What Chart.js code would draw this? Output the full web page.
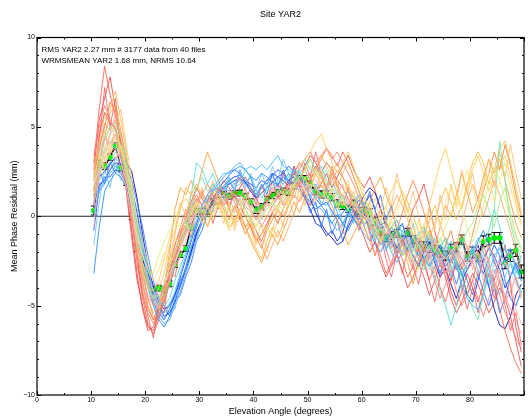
<!DOCTYPE html>
<html>
<head>
<meta charset="utf-8">
<script src="https://cdn.jsdelivr.net/npm/chart.js@4.4.1/dist/chart.umd.min.js"></script>
<style>
  html, body { margin: 0; padding: 0; background: #fff; }
</style>
</head>
<body>
<canvas id="c" width="528" height="417"></canvas>
<script>
// elevation bins (deg)
const elevation = [
  10.5, 11.5, 12.5, 13.5, 14.5, 15.5, 16.5, 17.5, 18.5, 19.5,
  20.5, 21.5, 22.5, 23.5, 24.5, 25.5, 26.5, 27.5, 28.5, 29.5,
  30.5, 31.5, 32.5, 33.5, 34.5, 35.5, 36.5, 37.5, 38.5, 39.5,
  40.5, 41.5, 42.5, 43.5, 44.5, 45.5, 46.5, 47.5, 48.5, 49.5,
  50.5, 51.5, 52.5, 53.5, 54.5, 55.5, 56.5, 57.5, 58.5, 59.5,
  60.5, 61.5, 62.5, 63.5, 64.5, 65.5, 66.5, 67.5, 68.5, 69.5,
  70.5, 71.5, 72.5, 73.5, 74.5, 75.5, 76.5, 77.5, 78.5, 79.5,
  80.5, 81.5, 82.5, 83.5, 84.5, 85.5, 86.5, 87.5, 88.5, 89.5
];

// weighted mean residual of all files (mm) and its error
const meanResidual = [
  0.32, 2.94, 2.81, 3.31, 3.93, 2.72, 1.91, 0.0, -1.78, -2.38,
  -3.18, -4.12, -4.02, -4.1, -3.78, -2.71, -2.15, -1.81, -0.6, 0.28,
  0.28, 0.28, 0.81, 0.9, 1.22, 1.12, 1.27, 1.3, 1.12, 0.81,
  0.34, 0.53, 0.94, 1.16, 1.31, 1.4, 1.35, 1.69, 2.1, 2.1,
  1.78, 1.4, 1.22, 1.22, 1.07, 0.72, 0.58, 0.42, 0.71, 0.28,
  0.28, 0.19, -0.28, -0.84, -1.21, -1.08, -0.97, -1.31, -0.9, -1.31,
  -1.69, -1.69, -1.76, -1.9, -2.02, -2.21, -1.83, -1.74, -1.31, -2.25,
  -2.02, -2.21, -1.4, -1.31, -1.21, -1.21, -2.62, -2.21, -1.91, -3.09
];
const meanError = [
  0.25, 0.2, 0.18, 0.18, 0.18, 0.18, 0.18, 0.18, 0.18, 0.18,
  0.16, 0.16, 0.16, 0.16, 0.16, 0.16, 0.16, 0.16, 0.16, 0.16,
  0.16, 0.16, 0.16, 0.16, 0.16, 0.16, 0.16, 0.16, 0.16, 0.16,
  0.18, 0.18, 0.18, 0.18, 0.18, 0.18, 0.18, 0.18, 0.18, 0.18,
  0.2, 0.2, 0.2, 0.2, 0.2, 0.2, 0.2, 0.2, 0.2, 0.2,
  0.22, 0.22, 0.22, 0.22, 0.22, 0.22, 0.22, 0.22, 0.22, 0.22,
  0.26, 0.26, 0.26, 0.26, 0.26, 0.26, 0.26, 0.26, 0.26, 0.26,
  0.3, 0.3, 0.3, 0.3, 0.3, 0.3, 0.32, 0.32, 0.34, 0.36
];

// per-file mean residuals (mm)
const fileA = [
  1.2, 2.2, 2.5, 2.9, 3.3, 3.4, 3.0, 2.5, 1.0, -1.0,
  -2.8, -3.9, -4.8, -5.2, -5.0, -4.4, -3.6, -3.0, -2.0, -0.9,
  -0.2, 0.3, 0.9, 1.3, 1.6, 1.8, 2.0, 2.1, 1.9, 1.4,
  1.0, 1.3, 1.6, 1.9, 2.2, 2.0, 1.7, 2.0, 2.2, 1.8,
  1.0, 0.2, -0.4, -0.9, -1.2, -1.6, -1.4, -0.6, 0.0, 0.6,
  1.2, 1.6, 1.3, 0.4, -0.6, -1.2, -0.8, -0.4, -1.5, -2.2,
  -2.8, -2.0, -1.4, -2.6, -3.4, -2.9, -3.8, -4.6, -3.6, -3.0,
  -2.4, -1.6, -2.8, -3.9, -5.2, -6.1, -6.3, -5.6, -4.4, -3.8
];
const fileB = [
  0.5, 1.8, 2.0, 2.6, 3.0, 2.9, 2.4, 1.6, 0.2, -1.6,
  -3.2, -4.4, -5.0, -5.6, -5.4, -4.8, -3.9, -3.0, -2.0, -1.0,
  -0.3, 0.3, 1.0, 1.4, 1.7, 2.0, 2.2, 2.3, 1.9, 1.6,
  1.2, 1.6, 2.0, 2.4, 2.2, 2.4, 2.0, 2.2, 1.6, 1.0,
  0.4, -0.4, -0.6, -1.1, -0.8, -1.4, -0.9, 0.2, 0.5, 0.9,
  0.6, 1.2, 0.3, -0.5, -0.3, -1.0, -1.8, -1.2, -2.0, -1.6,
  -2.2, -1.8, -1.2, -2.0, -1.6, -2.4, -1.8, -2.6, -3.2, -4.4,
  -4.8, -3.6, -2.4, -1.8, -2.2, -3.0, -4.0, -3.4, -2.6, -3.2
];
const fileC = [
  -0.8, 1.6, 2.2, 2.2, 2.6, 2.4, 1.8, 0.6, -0.8, -2.2,
  -3.6, -4.8, -5.4, -5.8, -5.2, -4.4, -3.4, -2.4, -1.4, -0.4,
  0.4, 0.8, 1.4, 1.6, 1.9, 2.3, 2.6, 2.4, 2.0, 1.8,
  1.6, 2.0, 1.8, 2.3, 2.6, 2.4, 2.8, 2.5, 2.2, 1.6,
  1.4, 1.0, 0.6, 0.8, 0.3, -0.2, 0.2, 0.6, -0.2, -0.5,
  0.0, -0.6, -0.4, -1.2, -1.8, -1.4, -2.0, -1.6, -1.8, -1.2,
  -1.6, -2.4, -2.0, -1.4, -2.2, -2.8, -2.4, -3.0, -2.6, -2.2,
  -1.8, -2.6, -3.2, -2.4, -1.6, -2.2, -3.6, -4.6, -5.0, -4.2
];
const fileD = [
  -3.2, -0.6, 1.4, 2.0, 2.4, 2.2, 1.6, 0.4, -1.4, -2.8,
  -4.0, -5.0, -5.8, -6.2, -5.6, -4.6, -3.8, -2.8, -1.8, -0.6,
  0.2, 0.9, 1.5, 1.8, 2.2, 2.5, 2.6, 2.8, 2.6, 2.2,
  2.0, 2.4, 2.2, 1.9, 1.8, 2.2, 2.0, 1.8, 1.4, 1.2,
  0.8, 0.4, 0.6, 0.2, -0.4, 0.1, -0.4, -0.8, -0.2, 0.4,
  0.2, -0.8, -1.6, -2.0, -1.4, -0.6, -1.2, -2.2, -1.8, -1.0,
  -1.4, -2.2, -2.8, -2.2, -1.6, -2.0, -2.6, -1.8, -2.4, -3.0,
  -2.2, -1.4, -0.8, -1.6, -2.6, -3.2, -2.4, -1.8, -2.8, -3.6
];
const fileE = [
  0.2, 1.4, 1.8, 2.4, 2.8, 2.6, 2.0, 1.0, -0.6, -2.0,
  -3.4, -4.6, -5.2, -5.4, -5.0, -4.2, -3.2, -2.2, -1.2, -0.2,
  0.6, 1.2, 1.6, 2.0, 2.4, 2.4, 2.8, 3.0, 2.6, 2.8,
  2.6, 2.9, 2.6, 3.0, 3.4, 2.8, 2.6, 2.4, 2.2, 1.8,
  1.6, 1.2, 0.8, 0.6, 1.0, 0.2, -0.4, 0.0, 0.6, 0.2,
  -0.4, -0.2, -1.0, -1.6, -1.2, -0.6, -0.2, -1.0, -1.8, -1.4,
  -1.0, -0.6, -1.6, -2.4, -1.8, -1.2, -2.0, -2.8, -3.8, -4.6,
  -5.0, -5.2, -4.4, -3.2, -2.2, -1.8, -2.6, -3.4, -2.8, -2.2
];
const fileW = [
  0.0, 1.4, 2.0, 2.6, 3.2, 3.0, 2.2, 1.4, -0.2, -1.8,
  -3.4, -4.8, -5.6, -6.0, -5.8, -5.0, -4.2, -3.2, -2.2, -1.2,
  -0.4, 0.4, 1.0, 1.2, 1.6, 1.4, 1.8, 2.0, 1.8, 1.4,
  1.2, 1.6, 2.0, 2.2, 1.8, 2.0, 2.4, 2.2, 1.8, 1.6,
  1.2, 0.6, 0.4, 0.0, -0.4, -0.8, -0.4, 0.2, -0.2, -0.6,
  -1.0, -1.4, -0.8, -0.4, -1.2, -2.0, -2.6, -2.0, -1.4, -2.2,
  -2.8, -2.2, -1.6, -2.4, -3.2, -2.6, -2.0, -2.8, -3.4, -2.6,
  -1.8, -2.4, -3.2, -4.0, -3.2, -2.4, -1.8, -2.6, -3.6, -4.4
];
const fileF = [
  0.8, 2.0, 2.6, 3.0, 3.6, 3.2, 2.6, 1.2, -0.4, -1.8,
  -3.0, -4.2, -4.8, -5.0, -4.6, -3.6, -2.8, -2.0, -0.8, 0.2,
  0.6, 1.0, 1.4, 1.8, 1.6, 2.2, 1.8, 2.4, 2.0, 1.6,
  1.2, 1.8, 1.4, 1.6, 2.0, 1.8, 2.2, 2.6, 2.4, 2.0,
  1.6, 1.8, 1.2, 1.6, 1.0, 0.8, 1.2, 0.4, 0.8, 1.2,
  0.6, 0.2, -0.6, -0.2, -1.0, -1.6, -1.0, -0.4, -1.2, -1.8,
  -2.2, -1.6, -1.0, -1.8, -2.6, -2.0, -1.4, -2.4, -3.2, -2.6,
  -2.0, -1.2, -2.0, -3.0, -4.0, -4.4, -3.4, -2.6, -3.0, -3.6
];
const fileG = [
  1.0, 2.4, 3.6, 4.2, 3.8, 3.4, 2.4, 1.0, -1.0, -2.6,
  -3.8, -4.6, -5.0, -4.6, -3.8, -2.8, -1.6, -0.4, 1.2, 3.0,
  2.6, 1.8, 2.4, 1.6, 1.4, 2.0, 1.6, 1.8, 2.6, 2.2,
  1.4, 1.0, 1.6, 2.0, 1.4, 1.8, 2.4, 2.0, 2.8, 3.2,
  2.6, 2.4, 2.8, 2.0, 1.6, 1.2, 0.8, 1.4, 1.0, 0.4,
  0.8, 0.2, -0.4, -1.2, -1.8, -1.2, -0.6, -1.4, -2.0, -1.4,
  -2.4, -3.0, -2.2, -3.4, -4.2, -5.0, -6.1, -5.0, -3.6, -2.6,
  -1.8, -2.6, -1.8, -0.8, 0.4, -0.6, -1.8, -2.6, -3.4, -4.2
];
const fileH = [
  1.6, 3.0, 4.2, 5.0, 5.2, 4.4, 3.2, 1.4, -0.6, -2.0,
  -3.4, -4.2, -4.6, -4.4, -3.6, -2.6, -1.8, -1.0, 0.4, 1.6,
  2.2, 1.4, 1.8, 1.2, 0.8, 1.4, 1.0, 0.6, 1.2, 0.8,
  0.2, 0.6, 1.0, 0.6, 1.2, 1.6, 1.2, 1.8, 2.4, 2.8,
  3.2, 2.6, 2.2, 2.6, 1.8, 1.4, 1.0, 0.6, 1.2, 0.8,
  0.4, -0.2, -1.0, -0.6, -1.4, -2.0, -1.6, -0.8, -1.2, -2.0,
  -1.6, -2.2, -3.0, -2.4, -1.8, -1.2, -2.0, -2.6, -3.4, -4.2,
  -5.2, -5.8, -4.4, -2.6, 0.4, 4.2, 2.0, -0.4, -1.6, -2.4
];
const fileI = [
  2.0, 3.6, 4.4, 5.0, 4.8, 3.8, 2.6, 0.8, -1.4, -3.0,
  -4.0, -4.6, -4.4, -3.8, -2.8, -2.0, -1.2, -0.6, 0.2, 0.6,
  0.2, 0.8, 0.4, 1.0, 0.6, 0.2, 0.6, 1.0, 0.4, -0.2,
  -0.6, 0.0, 0.4, 0.8, 0.4, 1.0, 1.4, 1.8, 2.2, 2.6,
  2.0, 1.6, 1.8, 1.2, 0.8, 1.4, 0.8, 0.4, 0.0, -0.4,
  -0.8, -0.4, -1.2, -0.6, -0.2, -1.0, -1.6, -2.2, -1.6, -2.4,
  -3.0, -2.4, -1.6, -2.0, -1.2, -2.2, -3.0, -2.4, -1.6, -0.8,
  -0.4, 0.6, 1.2, 0.4, -0.6, 0.8, 1.6, 0.2, -1.0, -1.8
];
const fileJ = [
  1.2, 2.8, 3.6, 4.2, 4.6, 3.8, 2.8, 1.2, -0.8, -2.2,
  -3.0, -3.2, -2.2, -1.4, -0.8, -0.4, -0.6, -0.2, 0.2, 0.8,
  0.4, -0.2, 0.2, 0.6, 0.2, -0.4, 0.2, 0.6, 0.2, -0.4,
  -0.8, -0.4, -0.8, 0.0, 0.6, 0.4, 1.0, 1.6, 2.2, 2.6,
  2.8, 2.2, 2.6, 1.8, 1.2, 0.6, 1.0, 0.4, 0.8, 0.2,
  -0.4, 0.2, -0.6, -1.4, -0.8, -0.2, -1.0, -1.8, -2.6, -2.0,
  -1.2, -0.4, -1.2, -2.0, -1.4, -0.6, 0.2, 1.0, 0.4, -0.6,
  -1.4, -0.6, 0.6, 1.8, 2.8, 2.0, 1.0, -0.2, -1.2, -2.0
];
const fileK = [
  0.8, 2.2, 3.2, 3.8, 4.4, 3.6, 2.2, 0.4, -1.8, -3.2,
  -4.0, -4.2, -3.6, -2.4, -1.2, -0.2, 0.6, 1.0, 0.4, 0.8,
  0.0, -0.6, 0.2, 0.6, 0.0, -0.8, -0.2, 0.4, 0.0, -0.8,
  -1.6, -1.0, -0.6, -1.2, -0.2, 0.4, 1.2, 2.0, 2.8, 3.2,
  3.6, 4.2, 4.6, 3.8, 3.0, 2.4, 3.0, 3.6, 2.8, 1.8,
  1.0, 0.4, -0.6, -0.2, 0.6, 1.4, 2.0, 1.2, 0.4, -0.6,
  -1.4, -0.6, 0.6, 1.8, 3.0, 3.8, 2.6, 1.4, 0.4, 1.6,
  2.6, 3.4, 2.4, 1.4, 2.2, 2.8, 3.4, 2.2, 0.8, -0.4
];
const fileL = [
  2.6, 4.2, 5.6, 6.0, 7.0, 5.4, 3.6, 1.2, -1.2, -3.2,
  -4.6, -5.4, -5.0, -3.8, -2.4, -1.0, 0.4, 1.6, 1.2, 1.8,
  1.2, 0.6, 1.4, 0.8, 0.2, -0.6, -0.2, 0.2, -0.6, -1.2,
  -1.8, -2.4, -1.4, -0.6, -1.2, -0.4, 0.6, 1.4, 2.0, 2.6,
  3.2, 2.6, 3.4, 2.8, 2.2, 1.6, 2.4, 3.0, 2.2, 1.4,
  0.6, -0.2, -0.8, -1.6, -1.0, -0.2, 0.6, 1.4, 0.8, 0.0,
  -0.8, -2.0, -1.2, -0.4, 0.8, 1.6, 0.8, -0.2, 0.6, 1.8,
  3.0, 3.6, 3.0, 1.8, 2.6, 3.8, 4.2, 3.0, 1.6, 0.2
];
const fileM = [
  1.4, 3.0, 4.4, 5.8, 6.2, 4.8, 3.2, 0.8, -1.6, -3.6,
  -5.0, -5.8, -5.4, -4.0, -2.0, 0.4, 1.6, 1.2, 2.0, 1.4,
  2.6, 3.6, 2.8, 2.0, 1.2, 0.4, -0.4, 0.2, -0.6, -1.4,
  -2.0, -2.6, -1.8, -1.0, -1.6, -0.8, 0.0, 0.8, 0.2, 1.0,
  1.6, 2.4, 1.8, 1.2, 0.6, -0.2, -0.8, -1.6, -1.0, -0.4,
  0.2, 0.8, 1.6, 2.2, 1.2, 0.4, -0.6, -1.4, -2.6, -3.8,
  -2.6, -1.6, -0.8, -1.8, -0.6, 0.6, 0.0, 1.2, 2.4, 1.4,
  0.2, 1.0, 2.2, 3.2, 2.4, 3.2, 2.0, 0.8, -0.4, -1.2
];
const fileX = [
  1.6, 2.6, 3.8, 4.6, 5.0, 4.0, 2.6, 0.6, -1.4, -2.8,
  -3.8, -4.8, -5.2, -4.6, -3.4, -2.2, -1.0, 0.0, 0.8, 1.2,
  0.6, 0.0, 0.6, 1.2, 0.6, 0.0, 0.4, 1.0, 0.4, -0.2,
  -0.8, -1.6, -2.4, -1.6, -0.8, -1.4, -0.6, 0.2, 1.0, 1.6,
  2.2, 1.6, 1.0, 1.6, 2.4, 3.0, 2.2, 1.4, 0.6, 0.0,
  -0.6, -1.4, -2.2, -1.4, -0.4, 0.4, 1.2, 0.6, -0.2, -1.0,
  -2.0, -1.2, -0.2, 0.6, -0.4, -1.4, -2.4, -1.6, -0.4, 0.8,
  1.8, 1.0, 0.0, 1.0, 2.0, 1.2, 0.2, -0.8, -2.0, -3.0
];
const fileN = [
  2.2, 3.8, 5.0, 6.4, 5.8, 4.2, 2.4, 0.2, -2.4, -4.2,
  -5.4, -6.0, -5.2, -4.2, -3.0, -1.6, -0.6, 0.4, 0.0, 0.6,
  0.2, -0.6, 0.4, 1.0, 0.4, -0.2, 0.6, -0.2, -1.0, -0.4,
  -1.2, -1.8, -0.8, -0.2, 0.4, 0.0, 0.6, 1.2, 0.8, 1.4,
  2.0, 2.8, 2.2, 1.6, 2.4, 1.8, 1.0, 0.4, 1.0, 0.2,
  -0.6, -1.4, -0.8, -0.2, -1.0, -1.8, -0.8, 0.2, 1.2, 2.0,
  1.2, 0.2, -0.6, -1.6, -2.6, -1.6, -0.8, -2.0, -3.0, -2.2,
  -1.0, 0.2, 1.4, 2.4, 3.6, 2.6, 4.0, 2.8, 1.2, 0.0
];
const fileO = [
  3.0, 6.0, 8.4, 6.8, 5.6, 4.2, 2.4, 0.0, -2.6, -4.6,
  -6.0, -6.6, -5.8, -4.6, -3.4, -2.2, -1.2, -0.4, 0.2, 0.8,
  1.4, 0.6, 1.2, 0.4, 0.8, 1.4, 0.8, 0.2, -0.6, -0.2,
  -0.8, -1.4, -0.6, 0.2, 0.6, 1.2, 1.8, 2.4, 3.0, 2.6,
  2.0, 2.6, 3.2, 3.8, 3.4, 2.8, 3.6, 3.0, 2.2, 1.4,
  0.6, -0.4, -1.4, -2.2, -3.2, -2.6, -1.6, -2.4, -3.4, -2.8,
  -1.8, -2.6, -3.6, -2.8, -4.0, -4.8, -3.6, -2.4, -3.2, -4.4,
  -3.6, -2.4, -1.6, -2.6, -3.8, -5.2, -6.4, -7.4, -8.2, -8.8
];
const fileP = [
  2.6, 5.4, 6.6, 7.8, 6.0, 4.0, 1.8, -0.8, -3.2, -5.2,
  -6.4, -6.2, -5.2, -4.4, -3.2, -2.0, -1.0, 0.0, 0.8, 1.6,
  1.0, 0.4, 0.8, 1.4, 2.0, 1.6, 1.0, 1.6, 2.2, 1.6,
  1.0, 0.4, 0.8, 1.4, 1.8, 1.4, 2.0, 2.4, 1.8, 1.2,
  0.6, 1.2, 1.8, 2.4, 1.6, 2.2, 2.8, 3.4, 2.6, 2.0,
  1.6, 2.2, 1.4, 0.4, -0.4, -1.4, -2.2, -1.6, -0.6, 0.4,
  1.0, 1.8, 0.6, -0.8, -2.0, -3.0, -4.2, -5.0, -4.2, -3.2,
  -4.0, -4.8, -3.8, -2.8, -3.6, -2.6, -1.6, -3.8, -6.2, -7.6
];
const fileU = [
  2.0, 4.6, 5.8, 5.2, 5.0, 3.4, 1.4, -1.2, -3.6, -5.0,
  -6.2, -6.4, -5.6, -4.8, -3.6, -2.4, -1.4, -0.6, 0.4, 1.0,
  0.6, 1.2, 0.8, 1.6, 1.2, 0.6, 1.2, 0.6, 0.0, -0.6,
  -1.4, -1.0, -0.4, 0.2, -0.4, 0.4, 1.0, 1.4, 2.0, 2.8,
  3.4, 3.0, 2.4, 3.0, 2.6, 2.0, 1.6, 1.0, 0.4, -0.4,
  -1.2, -2.0, -1.4, -2.6, -3.4, -2.8, -2.2, -3.0, -4.0, -3.4,
  -2.6, -3.4, -4.4, -3.6, -2.6, -3.4, -4.6, -5.4, -4.8, -4.0,
  -3.2, -3.8, -4.6, -5.4, -4.8, -4.0, -4.6, -5.6, -7.0, -8.4
];
const fileQ = [
  3.4, 5.0, 6.2, 5.4, 4.8, 3.6, 2.2, 0.2, -2.0, -3.8,
  -5.2, -5.8, -5.0, -3.8, -2.6, -1.6, -0.8, -0.2, 0.6, 1.2,
  0.6, 1.2, 1.8, 1.2, 0.6, 1.0, 1.6, 2.2, 1.4, 0.8,
  0.2, -0.6, 0.0, 0.6, 1.0, 1.6, 1.2, 1.8, 2.6, 3.2,
  3.6, 3.0, 3.4, 3.8, 3.2, 3.6, 3.0, 2.4, 1.8, 1.0,
  0.4, -0.4, -1.2, -0.8, -1.8, -2.8, -2.0, -1.2, -2.2, -3.0,
  -2.4, -1.6, -2.6, -3.6, -4.6, -3.8, -3.0, -4.2, -5.0, -4.4,
  -3.6, -4.6, -5.6, -4.6, -3.6, -4.4, -5.4, -6.0, -6.8, -7.4
];
const fileV = [
  1.0, 3.8, 5.2, 4.8, 5.4, 4.6, 3.0, 1.0, -1.2, -3.0,
  -4.6, -5.6, -5.6, -4.8, -3.8, -2.6, -1.6, -0.8, 0.0, 0.6,
  1.2, 1.8, 1.2, 0.6, 1.0, 0.4, -0.2, 0.4, 1.0, 0.4,
  -0.2, 0.4, 1.0, 1.6, 1.2, 0.6, 1.0, 1.6, 2.2, 1.8,
  2.4, 2.8, 2.2, 1.6, 2.0, 2.6, 2.2, 1.6, 1.0, 0.6,
  0.0, -0.8, -0.2, 0.4, -0.4, -1.2, -2.0, -1.4, -0.6, -1.2,
  -2.0, -2.8, -2.2, -1.4, -2.4, -3.2, -2.6, -1.8, -1.0, -1.8,
  -2.6, -3.4, -2.6, -1.6, -2.4, -3.6, -4.8, -4.2, -3.4, -4.6
];
const fileR = [
  0.6, 3.2, 4.4, 4.0, 4.6, 3.2, 1.6, -0.4, -2.4, -3.4,
  -4.4, -5.0, -4.6, -4.0, -3.2, -2.4, -1.6, -1.0, -0.2, 0.4,
  0.0, 0.4, 0.8, 1.0, 0.6, 1.0, 1.2, 0.8, 0.6, 0.2,
  -0.2, 0.2, 0.6, 0.8, 1.0, 0.8, 1.2, 1.6, 1.8, 2.2,
  2.4, 2.0, 1.6, 1.8, 1.4, 1.0, 1.2, 0.8, 0.6, 0.2,
  0.0, -0.4, -0.8, -1.2, -1.6, -1.4, -1.0, -1.6, -2.0, -1.6,
  -1.2, -1.8, -2.4, -2.0, -2.8, -3.2, -2.6, -2.0, -2.4, -3.0,
  -2.6, -2.0, -2.8, -3.4, -3.0, -3.8, -4.4, -5.2, -5.8, -6.6
];
const fileS = [
  -0.6, 2.4, 3.0, 3.6, 3.8, 2.6, 1.6, 0.0, -1.6, -2.6,
  -3.4, -4.2, -4.4, -4.2, -3.6, -2.8, -2.2, -1.4, -0.6, 0.2,
  0.4, 0.2, 0.6, 1.0, 1.2, 0.8, 1.0, 1.2, 0.8, 0.6,
  0.2, 0.4, 0.8, 1.0, 1.2, 1.4, 1.6, 1.4, 1.8, 1.6,
  1.4, 1.2, 1.0, 1.4, 1.2, 0.8, 0.6, 1.0, 0.6, 0.4,
  0.2, 0.4, -0.2, -0.6, -1.0, -0.8, -1.2, -1.6, -1.2, -1.8,
  -2.0, -1.6, -1.8, -2.2, -2.6, -2.2, -1.8, -2.4, -2.0, -2.6,
  -2.2, -1.6, -1.2, -1.8, -2.4, -2.8, -2.2, -2.0, -2.6, -3.0
];
const fileT = [
  1.8, 2.6, 3.4, 4.0, 4.2, 3.0, 2.0, 0.6, -1.2, -2.2,
  -3.0, -3.6, -3.8, -3.6, -3.2, -2.6, -1.8, -1.2, -0.4, 0.4,
  0.8, 0.6, 1.0, 0.8, 1.2, 1.4, 1.2, 1.0, 1.4, 1.0,
  0.6, 0.8, 1.2, 1.4, 1.6, 1.2, 1.4, 1.8, 2.0, 1.6,
  1.8, 1.6, 1.2, 1.0, 1.4, 1.0, 0.8, 0.4, 0.8, 0.2,
  0.0, -0.4, -0.2, -0.8, -0.6, -1.2, -1.6, -1.2, -1.6, -1.2,
  -1.6, -2.2, -1.8, -1.4, -2.0, -2.4, -2.0, -1.6, -2.2, -2.8,
  -2.4, -1.8, -2.2, -2.8, -3.4, -3.0, -2.6, -3.2, -3.8, -4.4
];
const fileY1 = [
  2.4, 4.0, 3.2, 4.6, 5.8, 4.4, 2.2, 0.6, -2.0, -3.0,
  -4.8, -4.4, -5.2, -4.0, -3.6, -2.0, -1.4, 0.2, -0.4, 1.0,
  0.2, 1.0, 0.4, 1.6, 0.6, 1.2, 0.2, 1.0, 1.6, 0.4,
  1.0, -0.2, 0.8, 0.2, 1.4, 0.6, 1.8, 1.0, 2.0, 1.2,
  2.2, 1.4, 2.6, 1.6, 2.2, 1.2, 1.8, 0.6, 1.4, 0.2,
  0.8, -0.6, 0.2, -1.4, -0.4, -1.8, -0.8, -2.2, -1.2, -2.6,
  -1.4, -2.8, -1.8, -3.2, -2.0, -3.6, -2.4, -1.4, -2.8, -1.6,
  -3.0, -2.0, -3.6, -2.4, -4.2, -3.0, -4.8, -3.6, -5.2, -6.0
];
const fileY2 = [
  -1.6, 0.8, 2.6, 1.6, 3.0, 2.0, 2.8, 1.4, 0.4, -1.4,
  -2.8, -4.2, -5.0, -5.8, -4.8, -5.2, -3.6, -3.0, -1.6, -1.4,
  0.0, 0.6, 0.2, 1.4, 1.0, 2.2, 1.4, 2.6, 1.6, 2.4,
  1.4, 2.4, 1.6, 2.8, 2.0, 3.2, 2.4, 1.6, 2.6, 1.8,
  1.0, 1.8, 0.6, 1.2, 0.0, 0.8, -0.6, 0.4, -0.4, 0.6,
  -0.6, 0.2, -1.4, -0.4, -2.0, -1.0, -2.2, -0.8, -1.6, -0.4,
  -1.8, -0.8, -2.4, -1.2, -2.8, -1.6, -3.4, -2.2, -1.2, -2.6,
  -1.6, -3.2, -2.0, -3.8, -2.6, -1.6, -2.8, -1.8, -3.2, -2.4
];
const fileY3 = [
  0.4, 2.8, 4.8, 3.4, 5.2, 6.0, 4.0, 2.0, -0.6, -2.6,
  -3.6, -4.6, -4.0, -3.2, -1.6, -0.8, 0.8, 0.0, 1.4, 0.2,
  1.6, 0.4, 2.0, 0.8, -0.4, 0.6, -0.8, 0.2, -1.0, 0.0,
  -1.4, -0.4, -2.0, -0.8, 0.4, -0.6, 1.0, 0.0, 1.6, 0.6,
  1.8, 0.8, 2.4, 1.2, 2.8, 1.6, 0.6, 1.8, 0.4, 1.2,
  -0.2, 0.8, -0.8, 0.4, 1.6, 0.6, 2.4, 1.2, 0.2, 1.4,
  0.0, -1.2, 0.4, -0.8, 1.2, -0.2, 1.8, 0.6, 2.6, 1.2,
  2.4, 0.8, 1.8, 3.2, 1.6, 3.6, 2.2, 4.0, 2.4, 1.0
];
const fileY4 = [
  1.4, 4.2, 7.2, 5.0, 6.6, 3.8, 2.8, -0.4, -2.2, -4.4,
  -5.6, -6.8, -5.0, -5.4, -3.0, -3.4, -1.8, -0.6, -1.2, 0.4,
  -0.2, 0.8, -0.4, 0.6, 1.6, 0.4, 1.4, -0.2, 0.8, 1.6,
  0.6, 1.8, 0.8, 2.0, 1.0, 2.4, 1.4, 2.8, 1.6, 3.0,
  2.2, 3.6, 2.4, 1.4, 2.8, 1.6, 0.6, 1.6, 0.2, -0.8,
  0.2, -1.0, -2.2, -1.0, -2.4, -3.4, -2.0, -3.2, -1.8, -2.8,
  -3.8, -2.4, -3.6, -4.8, -3.4, -2.2, -3.6, -2.6, -4.0, -5.2,
  -4.0, -5.4, -4.2, -3.2, -4.6, -3.6, -5.0, -6.4, -5.4, -7.2
];
const fileY5 = [
  2.0, 3.4, 2.6, 3.8, 3.2, 4.0, 2.6, 1.6, -0.2, -1.6,
  -2.6, -3.6, -3.0, -2.0, -2.6, -1.2, -1.8, -0.4, -1.0, 0.4,
  -0.4, 0.6, -0.2, 1.0, 0.0, 0.8, -0.6, 0.4, 1.2, 0.2,
  -0.6, 0.4, -0.2, 1.0, 0.2, 1.4, 0.6, 1.8, 1.0, 2.2,
  1.4, 2.6, 1.8, 0.8, 1.6, 0.4, 1.2, 2.0, 1.0, 2.2,
  1.2, 0.2, 1.0, -0.4, 0.6, -0.8, 0.2, 1.0, -0.2, -1.2,
  -0.2, -1.4, -0.4, 0.6, -0.6, 0.8, 1.6, 0.4, 1.4, 2.6,
  1.6, 0.4, 1.6, 2.4, 0.8, 2.0, 3.0, 1.6, 0.6, -0.6
];
const fileY6 = [
  0.6, 2.6, 1.8, 3.0, 2.4, 3.4, 2.8, 2.0, 0.8, -0.6,
  -2.2, -3.6, -4.6, -5.0, -5.6, -4.8, -4.4, -3.4, -2.6, -1.4,
  -0.8, 0.2, 0.6, 1.6, 1.0, 2.0, 1.4, 2.6, 1.8, 2.2,
  1.0, 1.8, 1.2, 2.4, 1.6, 2.6, 1.8, 2.8, 2.0, 1.2,
  0.2, 0.8, -0.6, 0.4, -1.0, -0.2, -1.4, -0.4, 0.4, -0.2,
  0.6, 1.4, 0.4, 1.2, -0.2, 0.6, -0.8, -1.6, -0.6, -1.8,
  -1.2, -2.6, -1.6, -2.2, -3.2, -2.0, -2.8, -3.8, -2.8, -3.6,
  -4.4, -3.2, -4.2, -5.0, -4.0, -5.4, -4.6, -3.4, -2.6, -3.6
];

const fileSeries = [fileT, fileS, fileY5, fileR, fileJ, fileI, fileF, fileY1, fileX, fileK,
  fileH, fileE, fileY3, fileV, fileL, fileD, fileY2, fileQ, fileG, fileM,
  fileW, fileY4, fileN, fileC, fileU, fileY6, fileB, fileO, fileA, fileP];
const fileColors = [
  'rgba(255,205,205,0.9)', 'rgba(255,180,180,0.85)', 'rgba(255,225,120,0.85)', 'rgba(255,150,150,0.8)',
  'rgba(215,240,120,0.85)', 'rgba(165,235,140,0.85)', 'rgba(95,200,240,0.85)', 'rgba(255,170,150,0.8)',
  'rgba(255,160,90,0.8)', 'rgba(255,205,80,0.85)', 'rgba(120,230,175,0.85)', 'rgba(50,180,255,0.85)',
  'rgba(255,190,120,0.85)', 'rgba(255,128,96,0.8)', 'rgba(255,184,64,0.85)', 'rgba(30,140,255,0.85)',
  'rgba(110,190,255,0.8)', 'rgba(255,112,112,0.8)', 'rgba(80,222,210,0.85)', 'rgba(255,154,48,0.85)',
  'rgba(80,160,255,0.85)', 'rgba(245,80,80,0.75)', 'rgba(255,122,48,0.8)', 'rgba(20,80,255,0.85)',
  'rgba(232,52,52,0.75)', 'rgba(40,110,250,0.8)', 'rgba(0,40,230,0.85)', 'rgba(255,90,64,0.8)',
  'rgba(0,0,180,0.85)', 'rgba(240,60,60,0.8)'
];

const noteLines = [
  'RMS YAR2 2.27 mm # 3177 data from 40 files',
  'WRMSMEAN YAR2 1.68 mm, NRMS 10.64'
];

const FONT = '"Liberation Sans", Arial, Helvetica, sans-serif';
const pts = arr => elevation.map((e, i) => ({x: e, y: arr[i]}));

const datasets = fileSeries.map((s, k) => ({
  data: pts(s),
  borderColor: fileColors[k],
  borderWidth: 1,
  pointRadius: 0,
  tension: 0
}));
datasets.push({
  data: [{x: 0, y: 0}, {x: 90, y: 0}],
  borderColor: '#222',
  borderWidth: 1.2,
  pointRadius: 0
});
const meanIndex = datasets.length;
datasets.push({
  data: pts(meanResidual),
  borderColor: '#000',
  borderWidth: 1.6,
  pointRadius: 2.8,
  pointBackgroundColor: '#00ee00',
  pointBorderWidth: 0,
  tension: 0
});

const extras = {
  id: 'extras',
  beforeDatasetDraw(chart, args) {
    if (args.index !== meanIndex) return;
    const {ctx, scales: {x, y}} = chart;
    ctx.save();
    ctx.strokeStyle = '#000';
    ctx.lineWidth = 1.1;
    ctx.beginPath();
    elevation.forEach((e, i) => {
      const px = x.getPixelForValue(e);
      const hi = y.getPixelForValue(meanResidual[i] + meanError[i]);
      const lo = y.getPixelForValue(meanResidual[i] - meanError[i]);
      ctx.moveTo(px, hi); ctx.lineTo(px, lo);
      ctx.moveTo(px - 3, hi); ctx.lineTo(px + 3, hi);
      ctx.moveTo(px - 3, lo); ctx.lineTo(px + 3, lo);
    });
    ctx.stroke();
    ctx.restore();
  },
  afterDraw(chart) {
    const {ctx, chartArea: a, scales: {x, y}} = chart;
    ctx.save();
    ctx.strokeStyle = '#000';
    ctx.lineWidth = 1;
    ctx.beginPath();
    // inward ticks on all sides
    for (let v = -10; v <= 10; v++) {
      const py = Math.round(y.getPixelForValue(v)) + 0.5;
      const len = v % 5 === 0 ? 4 : 2;
      ctx.moveTo(a.left, py); ctx.lineTo(a.left + len, py);
      ctx.moveTo(a.right, py); ctx.lineTo(a.right - len, py);
    }
    for (let v = 0; v <= 90; v += 5) {
      const px = Math.round(x.getPixelForValue(v)) + 0.5;
      const len = v % 10 === 0 ? 4 : 2;
      ctx.moveTo(px, a.bottom); ctx.lineTo(px, a.bottom - len);
      ctx.moveTo(px, a.top); ctx.lineTo(px, a.top + len);
    }
    ctx.stroke();
    ctx.lineWidth = 1.2;
    ctx.strokeRect(a.left, a.top, a.right - a.left, a.bottom - a.top);
    ctx.fillStyle = '#000';
    ctx.font = '8px ' + FONT;
    ctx.textBaseline = 'middle';
    ctx.fillText(noteLines[0], a.left + 4.5, a.top + 12.5);
    ctx.fillText(noteLines[1], a.left + 4.5, a.top + 23.5);
    ctx.restore();
  }
};

new Chart(document.getElementById('c'), {
  type: 'line',
  data: {datasets},
  plugins: [extras],
  options: {
    responsive: false,
    animation: false,
    layout: {padding: {left: 0, right: 1, top: 0, bottom: 0}},
    plugins: {
      legend: {display: false},
      tooltip: {enabled: false},
      title: {
        display: true,
        text: 'Site YAR2',
        fullSize: false,
        color: '#000',
        font: {family: FONT, size: 9, weight: 'normal', lineHeight: 1.2},
        padding: {top: 9.6, bottom: 17.1}
      }
    },
    scales: {
      x: {
        type: 'linear',
        min: 0,
        max: 90,
        afterFit: s => { s.height = 22; },
        grid: {display: false, drawTicks: false},
        border: {display: false},
        ticks: {
          stepSize: 10,
          padding: 1,
          color: '#000',
          font: {family: FONT, size: 7},
          maxRotation: 0,
          callback: v => (v === 90 ? '' : v)
        },
        title: {
          display: true,
          text: 'Elevation Angle (degrees)',
          color: '#000',
          font: {family: FONT, size: 9, lineHeight: 1.2},
          padding: {top: 0, bottom: 0}
        }
      },
      y: {
        min: -10,
        max: 10,
        afterFit: s => { s.width = 37; },
        grid: {display: false, drawTicks: false},
        border: {display: false},
        ticks: {
          stepSize: 5,
          padding: 2,
          color: '#000',
          font: {family: FONT, size: 7},
          callback: v => (v < 0 ? '\u2212' + Math.abs(v) : String(v))
        },
        title: {
          display: true,
          text: 'Mean Phase Residual (mm)',
          color: '#000',
          font: {family: FONT, size: 9, lineHeight: 1.2},
          padding: {top: 9.6, bottom: 0}
        }
      }
    }
  }
});
</script>
</body>
</html>
